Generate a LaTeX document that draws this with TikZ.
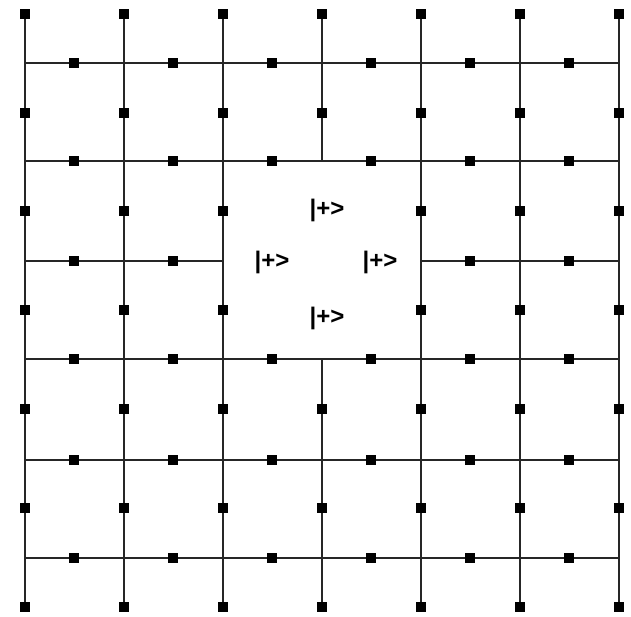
\documentclass[tikz,border=0pt]{standalone}
\usepackage{fontspec}
\setmainfont{Liberation Sans}
\begin{document}
\begin{tikzpicture}[x=1pt,y=-1pt,
  edge/.style={line width=1.8pt,draw=black!85},
  sq/.style={fill=black,inner sep=0pt,minimum size=10pt,draw=none},
  ket/.style={font=\bfseries\fontsize{24}{26}\selectfont,inner sep=0pt}]
\useasboundingbox (0,0) rectangle (631,617);
% vertical line ends
\foreach \i/\x in {0/25,1/124,2/223,3/322,4/421,5/520,6/619}{
  \coordinate (t\i) at (\x,14);
  \coordinate (b\i) at (\x,607);
}
% horizontal line ends
\foreach \j/\y in {0/63,1/161,2/261,3/359,4/460,5/558}{
  \coordinate (l\j) at (25,\y);
  \coordinate (r\j) at (619,\y);
}
% vertical lines
\foreach \i in {0,1,2,4,5,6}{ \draw[edge] (t\i) -- (b\i); }
\coordinate (c3a) at (t3 |- l1);
\coordinate (c3b) at (t3 |- l3);
\draw[edge] (t3) -- (c3a);
\draw[edge] (c3b) -- (b3);
% horizontal lines
\foreach \j in {0,1,3,4,5}{ \draw[edge] (l\j) -- (r\j); }
\coordinate (c2a) at (t2 |- l2);
\coordinate (c2b) at (t4 |- l2);
\draw[edge] (l2) -- (c2a);
\draw[edge] (c2b) -- (r2);
% squares on vertical lines
\foreach \i/\x in {0/25,1/124,2/223,3/322,4/421,5/520,6/619}{
  \foreach \k/\y in {0/14,1/113,2/211,3/310,4/409,5/508,6/607}{
    \pgfmathtruncatemacro{\skip}{(\i==3)&&(\k==2||\k==3)}
    \ifnum\skip=0 \node[sq] (v\i-\k) at (\x,\y) {};\fi
  }
}
% squares on horizontal lines
\foreach \m/\x in {0/74,1/173,2/272,3/371,4/470,5/569}{
  \foreach \j/\y in {0/63,1/161,2/261,3/359,4/460,5/558}{
    \pgfmathtruncatemacro{\skip}{(\j==2)&&(\m==2||\m==3)}
    \ifnum\skip=0 \node[sq] (h\m-\j) at (\x,\y) {};\fi
  }
}
% kets
\node[ket] (k1) at (327,210) {|+>};
\node[ket] (k2) at (272,262) {|+>};
\node[ket] (k3) at (380,262) {|+>};
\node[ket] (k4) at (327,318) {|+>};
\end{tikzpicture}
\end{document}
